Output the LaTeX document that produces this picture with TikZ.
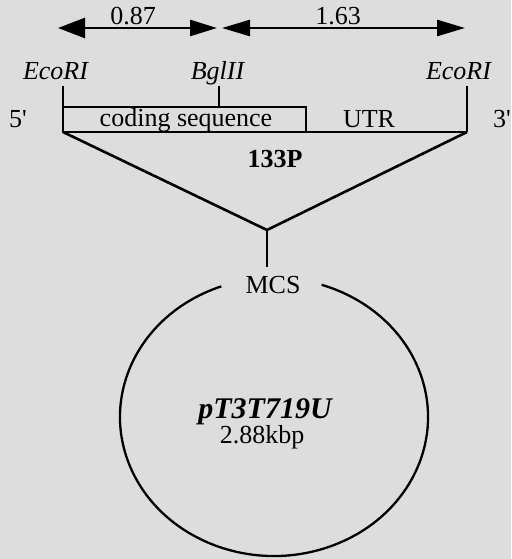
\documentclass[tikz,border=0pt]{standalone}
\usepackage{fontspec}
\setmainfont{Liberation Serif}
\usetikzlibrary{arrows.meta}
\definecolor{bgcol}{RGB}{221,221,221}
\begin{document}
\begin{tikzpicture}[x=1pt,y=1pt,
  lbl/.style={inner sep=0pt, anchor=base, font=\fontsize{26}{30}\selectfont},
  ln/.style={line width=2.6pt},
  dimarrow/.style={line width=2.6pt}]
\fill[bgcol] (0,0) rectangle (511,-559);
\useasboundingbox (0,0) rectangle (511,-559);

% dimension arrows
\coordinate (a1l) at (58,-28);
\coordinate (a1r) at (217,-28);
\coordinate (a2l) at (222,-28);
\coordinate (a2r) at (465,-28);
\draw[dimarrow, {Triangle[length=27pt,width=20pt]}-{Triangle[length=27pt,width=16pt]}] (a1l) -- (a1r);
\draw[dimarrow, {Triangle[length=28pt,width=16pt]}-{Triangle[length=28pt,width=16pt]}] (a2l) -- (a2r);
\node[lbl] (d087) at (133,-25) {0.87};
\node[lbl] (d163) at (338,-25) {1.63};

% restriction sites
\node[lbl] (ecoL) at (56,-80) {\textit{EcoRI}};
\node[lbl] (bgl) at (218,-80) {\textit{BglII}};
\node[lbl] (ecoR) at (459,-80) {\textit{EcoRI}};

\coordinate (tLtop) at (63,-86);
\coordinate (fragL) at (63,-132);
\coordinate (tBtop) at (219,-86);
\coordinate (tBbot) at (219,-107);
\coordinate (tRtop) at (467,-86);
\coordinate (fragR) at (467,-132);
\coordinate (cdsEnd) at (306,-107);

\draw[ln] (tLtop) -- (fragL);
\draw[ln] (tBtop) -- (tBbot);
\draw[ln] (tRtop) -- (fragR);
\draw[ln] (fragL |- tBbot) rectangle (cdsEnd |- fragL);
\draw[ln] (fragL) -- (fragR);

\node[lbl] (five) at (18,-128) {5\textquotesingle};
\node[lbl, anchor=base east] (three) at (511,-128) {3\textquotesingle};
\node[lbl] (cds) at (186,-127) {coding sequence};
\node[lbl] (utr) at (369,-128) {UTR};
\node[lbl, font=\fontsize{26}{30}\selectfont\bfseries] (p133) at (275,-167) {133P};

% insertion
\coordinate (apex) at (267,-230);
\coordinate (mcsTop) at (267,-267);
\draw[ln, line join=miter] (fragL) -- (apex) -- (fragR);
\draw[ln] (apex) -- (mcsTop);
\node[lbl] (mcs) at (273,-293) {MCS};

% plasmid
\coordinate (plasmid) at (274,-417);
\draw[line width=2.3pt] (plasmid) ++(110:154 and 139) arc[start angle=110, end angle=432, x radius=154, y radius=139];
\node[lbl, font=\fontsize{30}{34}\selectfont\bfseries\itshape] (pname) at (265,-418) {pT3T719U};
\node[lbl] (psize) at (262,-443) {2.88kbp};
\end{tikzpicture}
\end{document}
